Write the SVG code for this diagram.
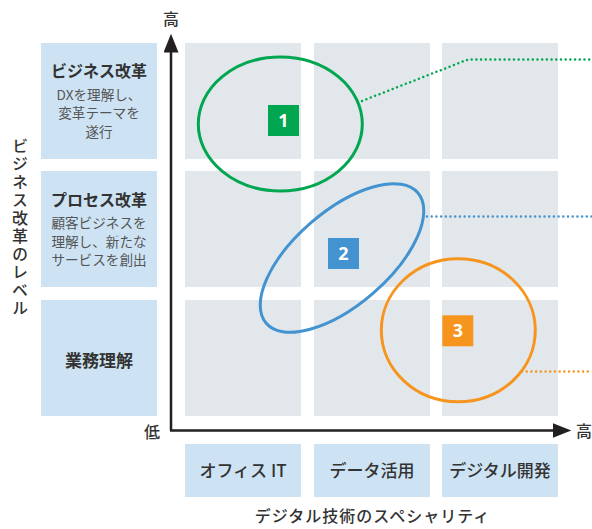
<svg xmlns="http://www.w3.org/2000/svg" width="592" height="529" viewBox="0 0 592 529">
<style>
.cell{fill:#e1e7eb}
.lab{fill:#cde3f4}
.t{font-family:"Noto Sans CJK JP","Noto Sans",sans-serif;fill:#333}
.h{font-size:16px;font-weight:700;text-anchor:middle}
.s{font-size:13.6px;fill:#555;text-anchor:middle}
.b{font-size:17px;font-weight:500;text-anchor:middle}
.ax{font-size:16px;font-weight:500;fill:#333}
.num{font-family:"Noto Sans","Noto Sans CJK JP",sans-serif;font-size:18px;font-weight:700;fill:#fff;text-anchor:middle}
.dot{fill:none;stroke-width:2.5;stroke-linecap:round;stroke-dasharray:0 4.7}
.ell{fill:none;stroke-width:3}
</style>
<defs>
<marker id="arr" markerWidth="8" markerHeight="6" refX="1" refY="3" orient="auto" markerUnits="strokeWidth"><path d="M0,0 L7.5,3 L0,6 Z" fill="#231f20"/></marker>
</defs>
<g id="grid">
<rect class="cell" x="185" y="43" width="116" height="116"/>
<rect class="cell" x="314" y="43" width="116" height="116"/>
<rect class="cell" x="442" y="43" width="116" height="116"/>
<rect class="cell" x="185" y="171" width="116" height="116"/>
<rect class="cell" x="314" y="171" width="116" height="116"/>
<rect class="cell" x="442" y="171" width="116" height="116"/>
<rect class="cell" x="185" y="300" width="116" height="116"/>
<rect class="cell" x="314" y="300" width="116" height="116"/>
<rect class="cell" x="442" y="300" width="116" height="116"/>
</g>
<g id="row-business">
<rect class="lab" x="41" y="43" width="116" height="116"/>
<text class="t h" x="99" y="77">ビジネス改革</text>
<text class="t s" x="99" y="100">DXを理解し、</text>
<text class="t s" x="99" y="118">変革テーマを</text>
<text class="t s" x="99" y="136.5">遂行</text>
</g>
<g id="row-process">
<rect class="lab" x="41" y="171" width="116" height="116"/>
<text class="t h" x="99" y="205.5">プロセス改革</text>
<text class="t s" x="99" y="228">顧客ビジネスを</text>
<text class="t s" x="99" y="246.5">理解し、新たな</text>
<text class="t s" x="99" y="265">サービスを創出</text>
</g>
<g id="row-operation">
<rect class="lab" x="41" y="300" width="116" height="116"/>
<text class="t h" x="99" y="366.5" style="font-size:17px">業務理解</text>
</g>
<g id="col-office">
<rect class="lab" x="185" y="444" width="116" height="53"/>
<text class="t b" x="243" y="477">オフィス IT</text>
</g>
<g id="col-data">
<rect class="lab" x="314" y="444" width="116" height="53"/>
<text class="t b" x="372" y="477">データ活用</text>
</g>
<g id="col-dev">
<rect class="lab" x="442" y="444" width="116" height="53"/>
<text class="t b" x="500" y="477">デジタル開発</text>
</g>
<g id="axes">
<line x1="171" y1="430.5" x2="171" y2="50" stroke="#231f20" stroke-width="2.5" marker-end="url(#arr)"/>
<line x1="170" y1="430.5" x2="555" y2="430.5" stroke="#231f20" stroke-width="2.5" marker-end="url(#arr)"/>
<text class="t ax" x="171" y="25" text-anchor="middle">高</text>
<text class="t ax" x="152" y="437.5" text-anchor="middle">低</text>
<text class="t ax" x="584" y="437" text-anchor="middle">高</text>
<text class="t ax" x="372.5" y="521.5" text-anchor="middle" letter-spacing="1">デジタル技術のスペシャリティ</text>
<text class="t ax" x="20" y="138" writing-mode="vertical-rl" letter-spacing="2">ビジネス改革のレベル</text>
</g>
<g id="connectors">
<polyline class="dot" stroke="#00a650" points="362,101 468,59.5 592,59.5"/>
<polyline class="dot" stroke="#4393d0" points="427,216.5 592,216.5"/>
<polyline class="dot" stroke="#f7941d" points="522,371.5 592,371.5"/>
</g>
<g id="group-1">
<ellipse class="ell" stroke="#00a650" cx="280.3" cy="124" rx="82" ry="67"/>
<rect x="268" y="105" width="31" height="31" fill="#00a650"/>
<text class="num" x="283.5" y="127">1</text>
</g>
<g id="group-2">
<ellipse class="ell" stroke="#4393d0" cx="342" cy="258" rx="100" ry="47" transform="rotate(-40.7 342 258)"/>
<rect x="328" y="238" width="31" height="31" fill="#4393d0"/>
<text class="num" x="343.5" y="260">2</text>
</g>
<g id="group-3">
<ellipse class="ell" stroke="#f7941d" cx="458.3" cy="330.3" rx="77" ry="71.5"/>
<rect x="442.3" y="315.3" width="31" height="31" fill="#f7941d"/>
<text class="num" x="457.8" y="337.3">3</text>
</g>
</svg>
